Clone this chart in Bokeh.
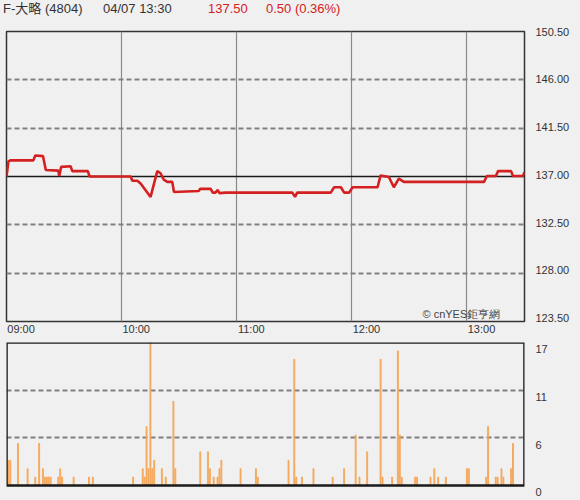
from bokeh.plotting import figure
from bokeh.models import (Range1d, LinearAxis, FixedTicker, Span, Label, Div, BoxAnnotation,
                          Grid, NumeralTickFormatter, CustomJSTickFormatter)
from bokeh.layouts import column
from bokeh.embed import file_html
from bokeh.resources import INLINE

# ---------------- data ----------------
title_name = "F-大略 (4804)"
title_time = "04/07 13:30"
last_price = "137.50"
change_text = "0.50 (0.36%)"
watermark = "© cnYES鉅亨網"

# minutes after 09:00 and price at that moment
price_min = [0, 1, 2, 14, 15, 19, 20.5, 27, 27.5, 28.5, 33.4, 34.3, 42.4, 43.3,
             64.7, 65.6, 68.2, 69.9, 75.1, 78.6, 80.3, 82, 83.8, 86.4, 87.3,
             100.2, 101, 106.4, 107.5, 109, 110, 111, 114.3, 149, 150.4, 151.5,
             169, 170.8, 174.3, 176, 178.6, 180.4, 193.4, 195, 199.3, 201.9,
             204.5, 207.1, 248.9, 250.4, 255.1, 256.2, 263, 264, 269.2, 270]
price = [137.0, 138.4, 138.5, 138.5, 138.95, 138.9, 137.6, 137.55, 137.05, 137.9,
         137.95, 137.5, 137.5, 137.0, 137.0, 136.6, 136.6, 136.35, 135.1, 137.5,
         137.3, 136.7, 136.5, 136.5, 135.55, 135.65, 135.85, 135.85, 135.5, 135.5,
         135.75, 135.45, 135.5, 135.5, 135.1, 135.5, 135.5, 136.0, 136.0, 135.5,
         135.5, 136.0, 136.0, 137.1, 136.95, 136.0, 136.8, 136.5, 136.5, 137.05,
         137.05, 137.5, 137.5, 137.05, 137.05, 137.4]

# minutes after 09:00 and traded volume
vol_min = [1, 2, 6, 11, 15, 17, 19, 20, 21, 22, 23, 27, 28, 29, 35, 43, 45, 66,
           71, 72, 73, 74, 75, 76, 77, 81, 83, 87, 88, 101, 105, 106, 108, 110,
           111, 112, 122, 130, 131, 147, 150, 151, 154, 160, 170, 176, 182, 184,
           188, 195, 196, 201, 204, 205, 206, 213, 214, 221, 223, 225, 229, 240,
           241, 250, 251, 255, 256, 258, 259, 263, 264]
vol = [3, 3, 5, 2, 1, 5, 2, 1, 1, 1, 1, 1, 2, 1, 1, 1, 1, 1,
       2, 1, 7, 2, 17, 2, 3, 2, 1, 10, 2, 4, 4, 2, 1, 1,
       2, 3, 2, 2, 1, 3, 15, 1, 1, 2, 1, 2, 6, 1,
       4, 15, 1, 1, 16, 6, 1, 1, 1, 1, 2, 1, 1, 2,
       2, 1, 7, 1, 1, 2, 1, 2, 5]

prev_close = 137.0
price_lo, price_hi = 123.5, 150.5
price_ticks = [123.5, 128.0, 132.5, 137.0, 141.5, 146.0, 150.5]
price_grid = [128.0, 132.5, 141.5, 146.0]
time_ticks = [0, 60, 120, 180, 240]
time_labels = ["09:00", "10:00", "11:00", "12:00", "13:00"]
session_len = 270
vol_max = 17
vol_ticks = [0, vol_max / 3, 2 * vol_max / 3, vol_max]

# ---------------- style ----------------
BG = "#f0f0f0"
TXT = "#333333"
RED = "#d42020"
FONT = "Liberation Sans"
W = 580
FW = 518            # frame width in px
LBL_DX = 7.6        # shift (minutes) so time labels sit right of their gridline
PRC_DY = 0.3125     # lift (price units) for the lower price labels
VOL_DY = 0.8125     # shift (volume units) so volume labels hang below their level
VOL_PAD = 15 * vol_max / 143   # room below the volume baseline for the "0" label

# ---------------- title row ----------------
def span(txt, w, col):
    return ('<span style="display:inline-block;width:%dpx;color:%s;white-space:pre">%s</span>'
            % (w, col, txt))

title_html = ('<div style="padding-left:3px;font-family:\'Liberation Sans\',\'Noto Sans CJK TC\',sans-serif;'
              'font-size:13px;line-height:18px;height:18px;white-space:nowrap">'
              + span(title_name, 100, TXT) + span(title_time, 105, TXT)
              + span(last_price, 58, RED) + span(change_text, 100, RED) + '</div>')
header = Div(text=title_html, width=W, height=18,
             styles={"background-color": BG, "margin": "0", "padding": "0"})

# ---------------- main price chart ----------------
p = figure(width=W, height=322, x_range=Range1d(0, session_len),
           y_range=Range1d(price_lo, price_hi), output_backend="svg",
           toolbar_location=None, x_axis_location=None, y_axis_location=None,
           min_border_left=6, min_border_right=W - 6 - FW, min_border_top=13,
           min_border_bottom=19, background_fill_color=BG, border_fill_color=BG,
           outline_line_color="#333333", outline_line_width=1.5)
p.center = []
p.extra_x_ranges = {"lbl": Range1d(-LBL_DX, session_len - LBL_DX)}
p.extra_y_ranges = {"lbl": Range1d(price_lo - PRC_DY, price_hi)}

p.add_layout(Grid(dimension=0, ticker=FixedTicker(ticks=time_ticks[1:]),
                  grid_line_color="#8a8a8a", grid_line_width=1.2))
p.add_layout(Grid(dimension=1, ticker=FixedTicker(ticks=price_grid),
                  grid_line_color="#808080", grid_line_width=1.8,
                  grid_line_dash="5 3"))
p.add_layout(Span(location=prev_close, dimension="width", line_color="#1a1a1a",
                  line_width=1.5, level="underlay"))

p.line(price_min, price, line_color=RED, line_width=2.6)

axis_style = dict(axis_line_color=None, major_tick_line_color=None,
                  minor_tick_line_color=None, major_label_text_font=FONT,
                  major_label_text_font_size="11px", major_label_text_color=TXT)

ax = LinearAxis(y_range_name="lbl", ticker=FixedTicker(ticks=price_ticks),
                formatter=NumeralTickFormatter(format="0.00"),
                major_label_standoff=5, **axis_style)
p.add_layout(ax, "right")

bx = LinearAxis(x_range_name="lbl", ticker=FixedTicker(ticks=time_ticks),
                major_label_overrides=dict(zip(time_ticks, time_labels)),
                major_label_standoff=1, major_tick_out=0, major_tick_in=0,
                **axis_style)
p.add_layout(bx, "below")

p.add_layout(Label(x=416, y=8, x_units="screen", y_units="screen", text=watermark,
                   text_font=FONT, text_font_size="11px", text_color="#444444",
                   text_baseline="middle"))

# ---------------- volume chart ----------------
v = figure(width=W, height=160, x_range=p.x_range, y_range=Range1d(-VOL_PAD, vol_max),
           output_backend="svg", toolbar_location=None, x_axis_location=None,
           y_axis_location=None, min_border_left=6, min_border_right=W - 6 - FW,
           min_border_top=2, min_border_bottom=0, background_fill_color=BG,
           border_fill_color=BG, outline_line_color=None)
v.center = []
v.extra_y_ranges = {"lbl": Range1d(-VOL_PAD + VOL_DY, vol_max + VOL_DY)}

v.add_layout(Grid(dimension=1, ticker=FixedTicker(ticks=vol_ticks[1:3]),
                  grid_line_color="#808080", grid_line_width=1.8,
                  grid_line_dash="5 3"))
v.vbar(x=vol_min, top=vol, width=0.5, color="#f4a455", alpha=0.85)
v.add_layout(BoxAnnotation(left=0, right=session_len, bottom=0, top=vol_max,
                           fill_color=None, fill_alpha=0, line_color="#1a1a1a",
                           line_alpha=1.0, line_width=2.6))

vx = LinearAxis(y_range_name="lbl", ticker=FixedTicker(ticks=vol_ticks),
                formatter=CustomJSTickFormatter(code="return Math.round(tick).toString()"),
                major_label_standoff=5, **axis_style)
v.add_layout(vx, "right")

layout = column(header, p, v, spacing=0,
                styles={"position": "absolute", "left": "0px", "top": "0px",
                        "background-color": BG})

open("out.html", "w").write(file_html(layout, INLINE))
